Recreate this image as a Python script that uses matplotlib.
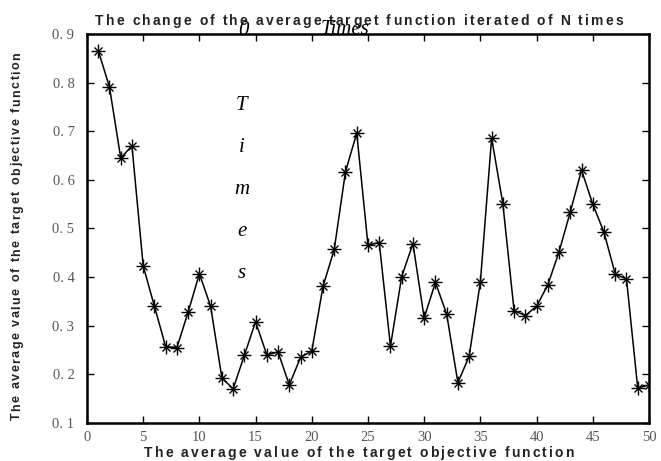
import matplotlib.pyplot as plt
from matplotlib.font_manager import FontProperties
from matplotlib.textpath import TextToPath

# Iteration number and the average target value at each iteration
iterations = list(range(1, 51))
avg_value = [0.866, 0.791, 0.645, 0.670, 0.423, 0.340, 0.257, 0.255, 0.328, 0.407,
             0.340, 0.193, 0.170, 0.239, 0.308, 0.240, 0.246, 0.178, 0.235, 0.248,
             0.381, 0.457, 0.617, 0.696, 0.466, 0.471, 0.258, 0.401, 0.469, 0.316,
             0.389, 0.324, 0.183, 0.237, 0.390, 0.686, 0.551, 0.331, 0.321, 0.340,
             0.384, 0.452, 0.534, 0.620, 0.550, 0.492, 0.406, 0.396, 0.172, 0.178]

x_ticks = [0, 5, 10, 15, 20, 25, 30, 35, 40, 45, 50]
y_ticks = [0.1, 0.2, 0.3, 0.4, 0.5, 0.6, 0.7, 0.8, 0.9]
y_tick_labels = ["0. 1", "0. 2", "0. 3", "0. 4", "0. 5", "0. 6", "0. 7", "0. 8", "0. 9"]

title_text = "The change of the average target function iterated of N times"
axis_text = "The average value of the target objective function"

W, H, DPI = 661, 461, 100
fig = plt.figure(figsize=(W / DPI, H / DPI), dpi=DPI)
ax = fig.add_axes([0.1316, 0.0825, 0.8502, 0.8438])

_t2p = TextToPath()


def spaced_text(cx, cy, text, size, span, vertical=False):
    """Draw bold text with letter spacing so it covers `span` pixels, centred at (cx, cy)."""
    prop = FontProperties(family="Liberation Sans", weight="bold", size=size)
    widths = [_t2p.get_text_width_height_descent(c, prop, ismath=False)[0] * DPI / 72
              for c in text]
    gap = (span - sum(widths)) / (len(text) - 1)
    pos = -span / 2
    for c, w in zip(text, widths):
        mid = pos + w / 2
        if vertical:
            x, y = cx, cy - mid
        else:
            x, y = cx + mid, cy
        fig.text(x / W, 1 - y / H, c, ha="center", va="center", fontproperties=prop,
                 rotation=90 if vertical else 0, color="#222222")
        pos += w + gap


ax.plot(iterations, avg_value, color="black", linewidth=1.1, zorder=2)  # Plots the curve
ax.plot(iterations, avg_value, linestyle="none", marker="+", markersize=10,
        markeredgewidth=1.0, color="black", zorder=3)  # Horizontal/vertical arms
ax.plot(iterations, avg_value, linestyle="none", marker="x", markersize=6,
        markeredgewidth=1.0, color="black", zorder=3)  # Diagonal arms

ax.set_xlim(0, 50)
ax.set_ylim(0.1, 0.9)
ax.set_xticks(x_ticks)
ax.set_yticks(y_ticks)
ax.set_yticklabels(y_tick_labels)

for s in ax.spines.values():
    s.set_linewidth(1.8)

ax.tick_params(direction="in", top=True, right=True, length=5, width=1.0,
               labelsize=10.5, labelcolor="#555555")
ax.tick_params(axis="x", pad=6)
ax.tick_params(axis="y", pad=9)
for lbl in ax.get_xticklabels() + ax.get_yticklabels():
    lbl.set_family("Liberation Serif")

spaced_text(359, 21, title_text, 10, 528)
spaced_text(359, 453, axis_text, 10, 430)
spaced_text(17, 236, axis_text, 9, 368, vertical=True)

# Italic "0 Times" overlapping the title and the stacked vertical "Times"
fig.text(0.369, 0.934, "0", ha="center", va="center", fontsize=15,
         style="italic", family="Liberation Serif")
fig.text(0.522, 0.936, "Times", ha="center", va="center", fontsize=15,
         style="italic", family="Liberation Serif")
for k, ch in enumerate("Times"):
    fig.text(0.366, 1 - (105 + 42.2 * k) / H, ch, ha="center", va="center",
             fontsize=15, style="italic", family="Liberation Serif")

fig.savefig("out.png", dpi=DPI)
